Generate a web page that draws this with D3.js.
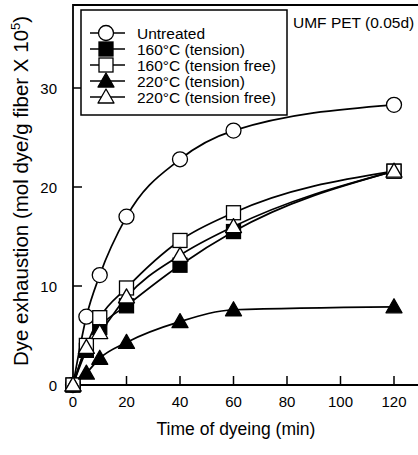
<!DOCTYPE html>
<html><head><meta charset="utf-8">
<script src="https://cdn.jsdelivr.net/npm/d3@7/dist/d3.min.js"></script>
<style>body{margin:0;background:#fff}svg{display:block}text{font-family:"Liberation Sans",Arial,Helvetica,sans-serif;fill:#000}</style>
</head><body><svg id="c" width="418" height="455"></svg>
<script>
const times = [0, 5, 10, 20, 40, 60, 120];
const untreated = [0, 6.9, 11.1, 17.0, 22.8, 25.7, 28.3];
const tension160 = [0, 3.5, 5.8, 8.0, 12.1, 15.5, 21.6];
const tensionFree160 = [0, 4.0, 6.8, 9.8, 14.6, 17.4, 21.6];
const tension220 = [0, 1.2, 2.7, 4.3, 6.4, 7.6, 7.9];
const tensionFree220 = [0, 3.8, 5.3, 8.9, 13.1, 16.0, 21.6];
const seriesNames = ["Untreated", "160°C (tension)", "160°C (tension free)", "220°C (tension)", "220°C (tension free)"];
const xTicks = [0, 20, 40, 60, 80, 100, 120];
const yTicks = [0, 10, 20, 30];

const series = [
  {name: seriesNames[0], vals: untreated, sym: "circle", fill: "#fff"},
  {name: seriesNames[1], vals: tension160, sym: "square", fill: "#000"},
  {name: seriesNames[2], vals: tensionFree160, sym: "square", fill: "#fff"},
  {name: seriesNames[3], vals: tension220, sym: "triangle", fill: "#000"},
  {name: seriesNames[4], vals: tensionFree220, sym: "triangle", fill: "#fff"}
];

const svg = d3.select("#c");
const x = d3.scaleLinear().domain([0, 120]).range([73, 394]);
const y = d3.scaleLinear().domain([0, 30]).range([385, 88]);
const pL = 73, pR = 418, pT = 5, pB = 385;

// frame
svg.append("path").attr("d", `M${pR},${pT}H${pL}V${pB}H${pR}`)
  .attr("fill", "none").attr("stroke", "#000").attr("stroke-width", 1.8);

// ticks (inward)
svg.selectAll(".xt").data(xTicks.filter(d => d > 0)).enter().append("line")
  .attr("x1", d => x(d)).attr("x2", d => x(d)).attr("y1", pB).attr("y2", pB - 9)
  .attr("stroke", "#000").attr("stroke-width", 1.5);
svg.selectAll(".yt").data(yTicks.filter(d => d > 0)).enter().append("line")
  .attr("y1", d => y(d)).attr("y2", d => y(d)).attr("x1", pL).attr("x2", pL + 9)
  .attr("stroke", "#000").attr("stroke-width", 1.5);

svg.selectAll(".xl").data(xTicks).enter().append("text")
  .attr("x", d => x(d)).attr("y", 407).attr("text-anchor", "middle")
  .attr("font-size", 15).text(d => d);
svg.selectAll(".yl").data(yTicks).enter().append("text")
  .attr("x", 57).attr("y", d => y(d) + 5.5).attr("text-anchor", "end")
  .attr("font-size", 15).text(d => d);

svg.append("text").attr("x", 236).attr("y", 435).attr("text-anchor", "middle")
  .attr("font-size", 17.5).text("Time of dyeing (min)");
const yt = svg.append("text").attr("transform", "translate(28,191) rotate(-90)")
  .attr("text-anchor", "middle").attr("font-size", 20.5);
yt.append("tspan").text("Dye exhaustion (mol dye/g fiber X 10");
yt.append("tspan").attr("font-size", 13).attr("dy", -8).text("5");
yt.append("tspan").attr("dy", 8).text(")");

svg.append("text").attr("x", 293).attr("y", 28).attr("font-size", 15.5).text("UMF PET (0.05d)");

function marker(g, sym, fill, cx, cy) {
  if (sym === "circle") {
    g.append("circle").attr("cx", cx).attr("cy", cy).attr("r", 7.5)
      .attr("fill", fill).attr("stroke", "#000").attr("stroke-width", 1.3);
  } else if (sym === "square") {
    g.append("rect").attr("x", cx - 7).attr("y", cy - 7).attr("width", 14).attr("height", 14)
      .attr("fill", fill).attr("stroke", "#000").attr("stroke-width", 1.3);
  } else {
    const s = 8;
    g.append("path").attr("d", `M${cx},${cy - s}L${cx + s},${cy + s * 0.75}L${cx - s},${cy + s * 0.75}Z`)
      .attr("fill", fill).attr("stroke", "#000").attr("stroke-width", 1.3).attr("stroke-linejoin", "round");
  }
}

const line = d3.line().x(d => x(d[0])).y(d => y(d[1])).curve(d3.curveMonotoneX);
const lg = svg.append("g");
series.forEach(s => {
  lg.append("path").attr("d", line(times.map((t, i) => [t, s.vals[i]])))
    .attr("fill", "none").attr("stroke", "#000").attr("stroke-width", 1.7);
});
const mg = svg.append("g");
series.forEach(s => {
  times.forEach((t, i) => marker(mg, s.sym, s.fill, x(t), y(s.vals[i])));
});

// legend
const leg = svg.append("g");
leg.append("rect").attr("x", 81).attr("y", 10).attr("width", 206).attr("height", 105)
  .attr("fill", "#fff").attr("stroke", "#000").attr("stroke-width", 1.5);
const rowY = [33, 49, 65, 81, 97];
series.forEach((s, i) => {
  leg.append("line").attr("x1", 90).attr("x2", 125).attr("y1", rowY[i]).attr("y2", rowY[i])
    .attr("stroke", "#000").attr("stroke-width", 1.7);
  marker(leg, s.sym, s.fill, 106, rowY[i]);
  leg.append("text").attr("x", 137).attr("y", rowY[i] + 5.5).attr("font-size", 15.5).text(s.name);
});
</script></body></html>
